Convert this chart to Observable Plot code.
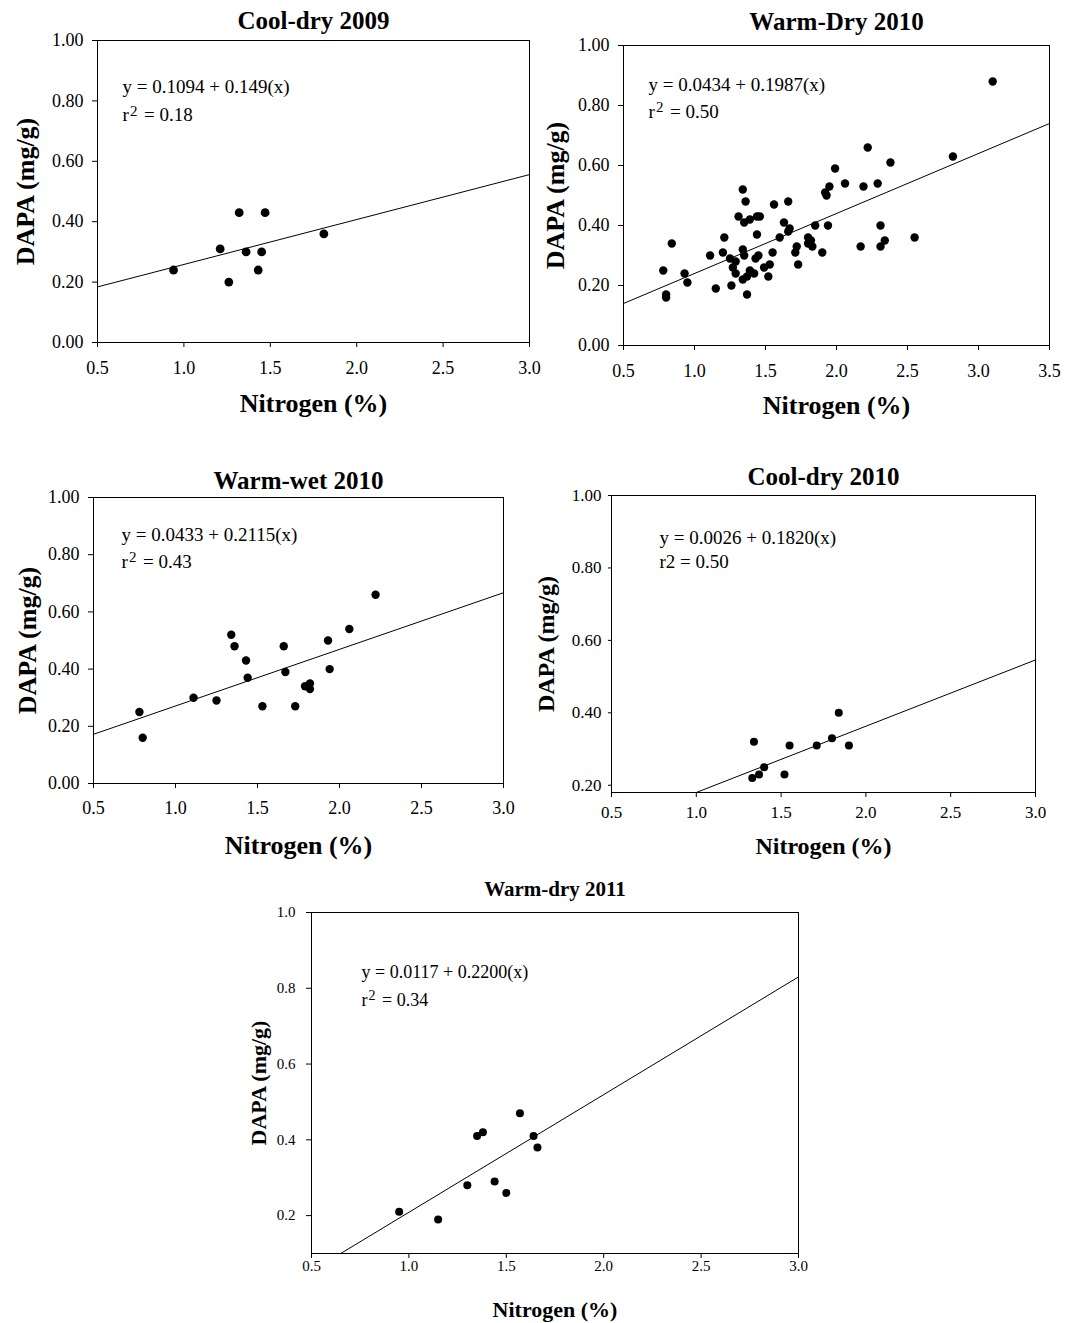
<!DOCTYPE html>
<html><head><meta charset="utf-8">
<script src="https://cdn.jsdelivr.net/npm/d3@7"></script>
<script src="https://cdn.jsdelivr.net/npm/@observablehq/plot@0.6"></script>
<style>
body{margin:0;background:#fff;}
#wrap{position:relative;width:1065px;height:1323px;overflow:hidden;background:#fff;}
#wrap svg{position:absolute;}
</style></head><body><div id="wrap"></div>
<script>
// ---------- data ----------
const titles = ["Cool-dry 2009", "Warm-Dry 2010", "Warm-wet 2010", "Cool-dry 2010", "Warm-dry 2011"];
const xLabel = "Nitrogen (%)";
const yLabel = "DAPA (mg/g)";

const cd09N    = [0.94, 1.21, 1.26, 1.32, 1.36, 1.43, 1.45, 1.47, 1.81];
const cd09DAPA = [0.24, 0.31, 0.20, 0.43, 0.30, 0.24, 0.30, 0.43, 0.36];
const cd09LineN = [0.5, 3.0], cd09LineDAPA = [0.184, 0.556];
const cd09Eq = "y = 0.1094 + 0.149(x)", cd09R2 = "= 0.18";

const wd10N = [3.10, 2.82, 2.22, 2.38, 1.99, 2.06, 2.19, 2.29, 1.95, 1.92, 1.93, 1.34, 1.36, 1.66, 1.56,
  1.31, 1.35, 1.39, 1.44, 1.46, 1.63, 1.67, 1.66, 1.85, 1.94, 2.31, 1.44, 1.21, 1.60, 1.80,
  1.82, 1.80, 1.83, 2.34, 2.31, 2.17, 2.55, 1.72, 1.71, 1.90, 1.73, 1.55, 1.34, 1.35, 1.20,
  1.11, 1.25, 1.29, 1.27, 1.29, 1.34, 1.37, 1.39, 1.42, 1.43, 1.45, 1.49, 1.53, 1.52, 1.15,
  1.26, 1.37, 0.84, 0.78, 0.93, 0.95, 0.80, 0.80];
const wd10DAPA = [0.88, 0.63, 0.66, 0.61, 0.59, 0.54, 0.53, 0.54, 0.53, 0.51, 0.50, 0.52, 0.48, 0.48, 0.47,
  0.43, 0.41, 0.42, 0.43, 0.43, 0.41, 0.39, 0.38, 0.40, 0.40, 0.40, 0.37, 0.36, 0.36, 0.36,
  0.35, 0.34, 0.33, 0.35, 0.33, 0.33, 0.36, 0.33, 0.31, 0.31, 0.27, 0.31, 0.32, 0.30, 0.31,
  0.30, 0.29, 0.28, 0.26, 0.24, 0.22, 0.23, 0.25, 0.24, 0.29, 0.30, 0.26, 0.27, 0.23, 0.19,
  0.20, 0.17, 0.34, 0.25, 0.24, 0.21, 0.17, 0.16];
const wd10LineN = [0.5, 3.5], wd10LineDAPA = [0.14, 0.74];
const wd10Eq = "y = 0.0434 + 0.1987(x)", wd10R2 = "= 0.50";

const ww10N    = [2.22, 2.06, 1.93, 1.94, 1.34, 1.36, 1.43, 1.44, 1.66, 1.67, 1.79, 1.82, 1.82, 1.53, 1.73, 1.11, 1.25, 0.78, 0.80];
const ww10DAPA = [0.66, 0.54, 0.50, 0.40, 0.52, 0.48, 0.43, 0.37, 0.48, 0.39, 0.34, 0.35, 0.33, 0.27, 0.27, 0.30, 0.29, 0.25, 0.16];
const ww10LineN = [0.5, 3.0], ww10LineDAPA = [0.172, 0.667];
const ww10Eq = "y = 0.0433 + 0.2115(x)", ww10R2 = "= 0.43";

const cd10N    = [1.84, 1.80, 1.90, 1.71, 1.55, 1.34, 1.40, 1.37, 1.33, 1.52];
const cd10DAPA = [0.40, 0.33, 0.31, 0.31, 0.31, 0.32, 0.25, 0.23, 0.22, 0.23];
const cd10LineN = [1.0, 3.0], cd10LineDAPA = [0.18, 0.546];
const cd10Eq = "y = 0.0026 + 0.1820(x)", cd10R2 = "r2 = 0.50";

const wd11N    = [0.95, 1.15, 1.30, 1.44, 1.50, 1.35, 1.38, 1.57, 1.64, 1.66];
const wd11DAPA = [0.21, 0.19, 0.28, 0.29, 0.26, 0.41, 0.42, 0.47, 0.41, 0.38];
const wd11LineN = [0.65, 3.0], wd11LineDAPA = [0.10, 0.83];
const wd11Eq = "y = 0.0117 + 0.2200(x)", wd11R2 = "= 0.34";

const xTicks30 = [0.5, 1.0, 1.5, 2.0, 2.5, 3.0];
const xTicks35 = [0.5, 1.0, 1.5, 2.0, 2.5, 3.0, 3.5];
const yTicks0  = [0, 0.2, 0.4, 0.6, 0.8, 1.0];
const yTicks02 = [0.2, 0.4, 0.6, 0.8, 1.0];

// ---------- drawing ----------
const FONT = "'Liberation Serif', 'Times New Roman', Times, serif";
function panel(o) {
  const [bx0, by0, bx1, by1] = o.box;
  const [fx0, fx1, fy0, fy1] = o.frame;
  const pts = o.xs.map((x, i) => ({x, y: o.ys[i]}));
  const ln = o.lx.map((x, i) => ({x, y: o.ly[i]}));
  const marks = [
    Plot.axisX({ticks: o.xTicks, tickFormat: d3.format(".1f"), tickSize: 5, tickPadding: o.xPad, fontSize: o.tickFs, label: null}),
    Plot.axisY({ticks: o.yTicks, tickFormat: d3.format(o.yFmt), tickSize: o.yTickSize ?? 5, tickPadding: o.yPad, fontSize: o.tickFs, label: null}),
    Plot.frame({stroke: "#000", strokeWidth: 1}),
    Plot.line(ln, {x: "x", y: "y", stroke: "#000", strokeWidth: 1, clip: true}),
    Plot.dot(pts, {x: "x", y: "y", r: o.r, fill: "#000"}),
    Plot.text([o.title], {frameAnchor: "top", dy: o.titleDy, textAnchor: "middle", lineAnchor: "bottom", fontSize: o.titleFs, fontWeight: "bold"}),
    Plot.text([xLabel], {frameAnchor: "bottom", dy: o.xlabDy, textAnchor: "middle", lineAnchor: "bottom", fontSize: o.labFs, fontWeight: "bold"}),
    Plot.text([yLabel], {frameAnchor: "left", dx: o.ylabDx, rotate: -90, textAnchor: "middle", lineAnchor: "bottom", fontSize: o.labFs, fontWeight: "bold"}),
    Plot.text([o.eq], {frameAnchor: "top-left", dx: o.eqDx, dy: o.eqDy[0], textAnchor: "start", lineAnchor: "bottom", fontSize: o.eqFs})
  ];
  if (o.sup) {
    marks.push(
      Plot.text(["r"], {frameAnchor: "top-left", dx: o.eqDx, dy: o.eqDy[1], textAnchor: "start", lineAnchor: "bottom", fontSize: o.eqFs}),
      Plot.text(["2"], {frameAnchor: "top-left", dx: o.eqDx + o.supDx, dy: o.eqDy[1] - o.supRaise, textAnchor: "start", lineAnchor: "bottom", fontSize: o.supFs}),
      Plot.text([o.r2], {frameAnchor: "top-left", dx: o.eqDx + o.r2Dx, dy: o.eqDy[1], textAnchor: "start", lineAnchor: "bottom", fontSize: o.eqFs})
    );
  } else {
    marks.push(Plot.text([o.r2], {frameAnchor: "top-left", dx: o.eqDx, dy: o.eqDy[1], textAnchor: "start", lineAnchor: "bottom", fontSize: o.eqFs}));
  }
  const p = Plot.plot({
    width: bx1 - bx0, height: by1 - by0,
    marginLeft: fx0 - bx0, marginRight: bx1 - fx1, marginTop: fy0 - by0, marginBottom: by1 - fy1,
    x: {domain: o.xDomain}, y: {domain: o.yDomain},
    style: {fontFamily: FONT, background: "transparent", overflow: "visible", color: "#000"},
    marks
  });
  p.style.left = bx0 + "px";
  p.style.top = by0 + "px";
  document.getElementById("wrap").append(p);
}

panel({title: titles[0], xs: cd09N, ys: cd09DAPA, lx: cd09LineN, ly: cd09LineDAPA, eq: cd09Eq, r2: cd09R2, sup: true,
  box: [0, 0, 540, 430], frame: [97, 529, 40, 342], xDomain: [0.5, 3.0], yDomain: [0, 1], xTicks: xTicks30, yTicks: yTicks0, yFmt: ".2f",
  xPad: 14, yPad: 9, tickFs: 18, titleFs: 25, titleDy: -12, labFs: 26, xlabDy: 69, ylabDx: -64, r: 4.4,
  eqFs: 19, eqDx: 25, eqDy: [52, 80], supFs: 15, supDx: 7.5, supRaise: 5, r2Dx: 21.5});

panel({title: titles[1], xs: wd10N, ys: wd10DAPA, lx: wd10LineN, ly: wd10LineDAPA, eq: wd10Eq, r2: wd10R2, sup: true,
  box: [530, 0, 1065, 430], frame: [623, 1049, 45, 345], xDomain: [0.5, 3.5], yDomain: [0, 1], xTicks: xTicks35, yTicks: yTicks0, yFmt: ".2f",
  xPad: 14, yPad: 9, tickFs: 18, titleFs: 25, titleDy: -16, labFs: 26, xlabDy: 68, ylabDx: -60, r: 4.2,
  eqFs: 19, eqDx: 25, eqDy: [45, 72], supFs: 15, supDx: 7.5, supRaise: 6, r2Dx: 21.5});

panel({title: titles[2], xs: ww10N, ys: ww10DAPA, lx: ww10LineN, ly: ww10LineDAPA, eq: ww10Eq, r2: ww10R2, sup: true,
  box: [0, 440, 540, 870], frame: [93, 503, 497, 783], xDomain: [0.5, 3.0], yDomain: [0, 1], xTicks: xTicks30, yTicks: yTicks0, yFmt: ".2f",
  xPad: 13, yPad: 9, tickFs: 18, titleFs: 25, titleDy: -9, labFs: 26, xlabDy: 70, ylabDx: -58, r: 4.2,
  eqFs: 19, eqDx: 28, eqDy: [43, 70], supFs: 15, supDx: 7.5, supRaise: 6, r2Dx: 21.5});

panel({title: titles[3], xs: cd10N, ys: cd10DAPA, lx: cd10LineN, ly: cd10LineDAPA, eq: cd10Eq, r2: cd10R2, sup: false,
  box: [520, 440, 1065, 870], frame: [611, 1035, 495, 792], xDomain: [0.5, 3.0], yDomain: [0.18, 1], xTicks: xTicks30, yTicks: yTicks02, yFmt: ".2f",
  xPad: 8, yPad: 7, yTickSize: 3, tickFs: 17, titleFs: 25, titleDy: -11, labFs: 24, xlabDy: 61, ylabDx: -58, r: 4,
  eqFs: 19, eqDx: 48, eqDy: [48, 72]});

panel({title: titles[4], xs: wd11N, ys: wd11DAPA, lx: wd11LineN, ly: wd11LineDAPA, eq: wd11Eq, r2: wd11R2, sup: true,
  box: [220, 860, 850, 1323], frame: [311, 798, 912, 1253], xDomain: [0.5, 3.0], yDomain: [0.1, 1], xTicks: xTicks30, yTicks: yTicks02, yFmt: ".1f",
  xPad: 2, yPad: 11, tickFs: 15, titleFs: 21, titleDy: -17, labFs: 22, xlabDy: 63, ylabDx: -46, r: 4,
  eqFs: 18, eqDx: 50, eqDy: [65, 93], supFs: 14, supDx: 7, supRaise: 6, r2Dx: 20.5});
</script></body></html>
